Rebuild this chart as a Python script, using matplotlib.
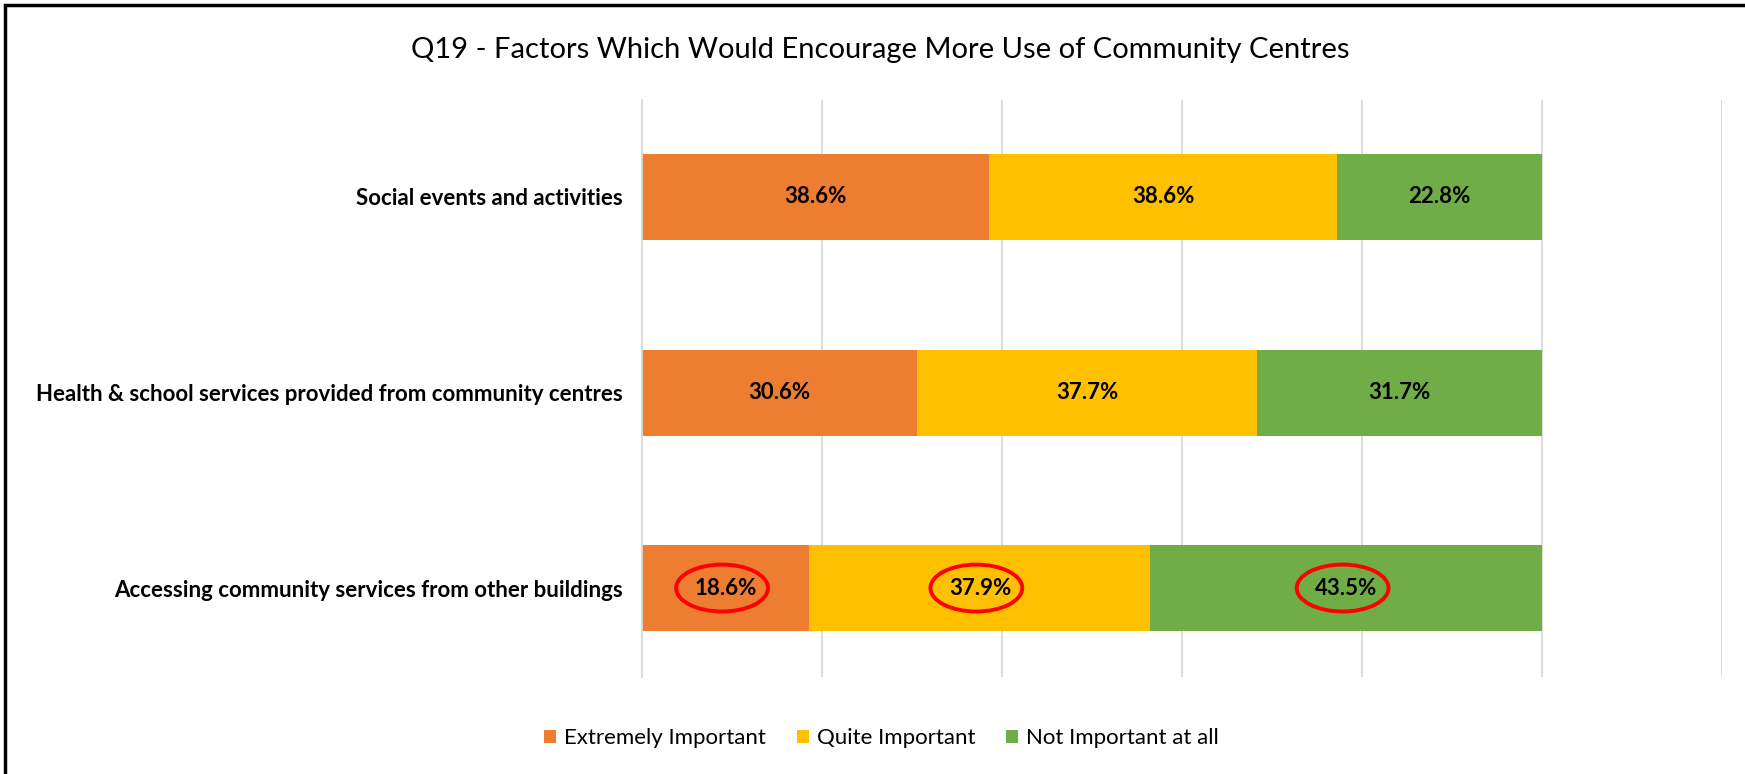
import matplotlib

matplotlib.use("Agg")
import matplotlib.pyplot as plt
import numpy as np
from matplotlib.patches import Ellipse, Patch, Rectangle

plt.rcParams["font.family"] = ["Lato", "DejaVu Sans"]

categories = [
    "Social events and activities",
    "Health & school services provided from community centres",
    "Accessing community services from other buildings",
]
series_names = ["Extremely Important", "Quite Important", "Not Important at all"]
extremely = [38.6, 30.6, 18.6]
quite = [38.6, 37.7, 37.9]
not_at_all = [22.8, 31.7, 43.5]
circled_row = 2

colors = ["#ED7D31", "#FFC000", "#70AD47"]

fig = plt.figure(figsize=(17.45, 7.74), dpi=100)
ax = fig.add_axes([0.3679, 0.1253, 0.6189, 0.7455])

y = np.arange(len(categories))
left = np.zeros(len(categories))
for name, vals, col in zip(series_names, [extremely, quite, not_at_all], colors):
    vals = np.array(vals)
    ax.barh(y, vals, left=left, height=0.44, color=col, label=name, zorder=2)
    for i, v in enumerate(vals):
        cx = left[i] + v / 2
        ax.text(cx, y[i], f"{v:.1f}%", ha="center", va="center",
                fontsize=16, fontweight="bold", color="black", zorder=4)
        if i == circled_row:
            # red ring around the highlighted row's labels
            ax.add_patch(Ellipse((cx - 0.4, y[i]), width=10.2, height=0.24,
                                 fill=False, edgecolor="#FF0000", lw=2.8, zorder=5))
    left += vals

ax.set_xlim(0, 120)
ax.set_ylim(2.455, -0.496)
ax.set_xticks(np.arange(0, 121, 20))
ax.xaxis.grid(True, color="#D9D9D9", lw=1.3, zorder=0)
ax.tick_params(axis="x", length=0, labelbottom=False)
ax.tick_params(axis="y", length=0, pad=14)
ax.set_yticks(y)
ax.set_yticklabels(categories, fontsize=16, fontweight="bold")
for side in ["top", "right", "bottom"]:
    ax.spines[side].set_visible(False)
ax.spines["left"].set_color("#D9D9D9")
ax.spines["left"].set_linewidth(1.3)

fig.text(0.5043, 0.936, "Q19 - Factors Which Would Encourage More Use of Community Centres",
         ha="center", va="center", fontsize=21)

handles = [Patch(facecolor=c, edgecolor="none") for c in colors]
fig.legend(handles, series_names, loc="center", bbox_to_anchor=(0.505, 0.046),
           ncol=3, frameon=False, fontsize=16, handlelength=0.55, handleheight=0.55,
           handletextpad=0.35, columnspacing=1.4)

# outer chart frame, clipped at the right and bottom
fig.patches.append(Rectangle((0.003, -0.05), 1.1, 1.044, transform=fig.transFigure,
                             fill=False, edgecolor="black", lw=2.5))

fig.savefig("out.png", dpi=100)
